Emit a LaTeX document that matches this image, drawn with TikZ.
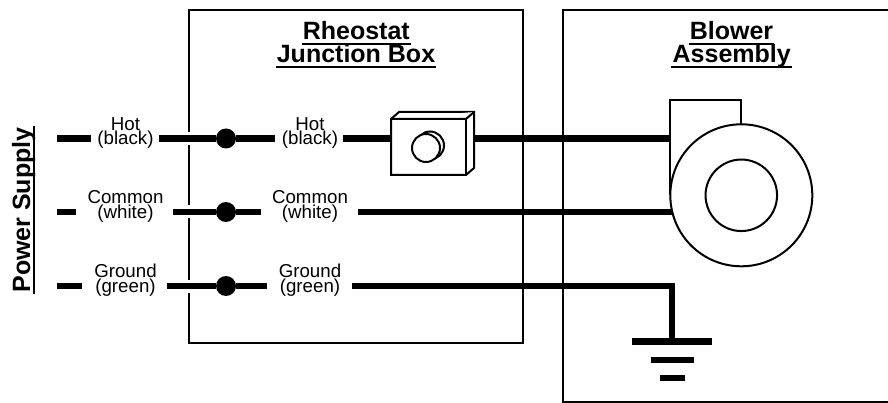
\documentclass[tikz,border=0pt]{standalone}
\usepackage{fontspec}
\setmainfont{Liberation Sans}
\tikzset{
  px/.style={x=1pt,y=-1pt},
  boxline/.style={draw=black,line width=1.8pt},
  wire/.style={draw=black,line width=6.5pt},
  halo/.style={draw=white,line width=13pt},
  bar/.style={draw=black,line width=6pt},
  thin part/.style={draw=black,fill=white,line width=2pt,line join=miter},
  junction/.style={circle,fill=black,inner sep=0pt,minimum size=20pt},
  wirelabel/.style={font=\fontsize{18.7}{14.5}\selectfont,align=center,inner sep=0pt},
  heading/.style={font=\fontsize{25}{25}\selectfont\bfseries,inner sep=0pt,text depth=0pt,anchor=base},
  ul/.style={draw=black,line width=1.9pt},
}
\begin{document}
\begin{tikzpicture}[px]
\useasboundingbox (0,0) rectangle (888,403);
% boxes
\draw[boxline] (189,10) rectangle (523,343);
\draw[boxline] (888,10) -- (563,10) -- (563,402) -- (888,402);
% free ends and junctions
\coordinate (hs) at (57,138.5);
\coordinate (cs) at (57,212);
\coordinate (gs) at (57,286);
\node[junction] (hj) at (226,138.5) {};
\node[junction] (cj) at (226,212) {};
\node[junction] (gj) at (226,286) {};
% labels
\node[wirelabel] (hl1) at (125.5,133) {Hot\\(black)};
\node[wirelabel] (cl1) at (125.5,206.5) {Common\\(white)};
\node[wirelabel] (gl1) at (125.5,280.3) {Ground\\(green)};
\node[wirelabel] (hl2) at (310,133) {Hot\\(black)};
\node[wirelabel] (cl2) at (310,206.5) {Common\\(white)};
\node[wirelabel] (gl2) at (310,280.3) {Ground\\(green)};
% halos on box edge
\draw[halo] (187,138.5) -- (191,138.5);
\draw[halo] (187,212) -- (191,212);
\draw[halo] (187,286) -- (191,286);
% left wires
\draw[wire] (hs) -- (91,138.5);
\draw[wire] (159,138.5) -- (hj);
\draw[wire] (cs) -- (76,212);
\draw[wire] (173,212) -- (cj);
\draw[wire] (gs) -- (82,286);
\draw[wire] (167,286) -- (gj);
% right wires
\draw[wire] (hj) -- (275,138.5);
\draw[wire] (343,138.5) -- (391,138.5);
\draw[wire] (474,138.5) -- (671,138.5);
\draw[wire] (cj) -- (261,212);
\draw[wire] (358,212) -- (672,212);
\draw[wire] (gj) -- (267,286);
\draw[wire,line join=miter] (352,286) -- (672,286) -- (672,342);
% ground bars
\draw[bar,line width=6.5pt] (632.3,341.5) -- (712.3,341.5);
\draw[bar] (650.7,360) -- (694,360);
\draw[bar] (660,378.3) -- (684.7,378.3);
% rheostat
\draw[thin part] (391,119) -- (399,112) -- (474,112) -- (474,168) -- (466,175) -- (391,175) -- cycle;
\draw[thin part] (391,119) -- (466,119) -- (474,112);
\draw[thin part,fill=none] (466,119) -- (466,175);
\draw[thin part] (430,145.5) circle (14);
\draw[thin part] (426,148) circle (14);
% blower
\draw[thin part] (670,195) -- (670,100.5) -- (741.3,100.5) -- (741.3,125);
\node[draw=black,fill=white,line width=2pt,circle,inner sep=0pt,minimum size=142pt] (fan) at (741.3,195.3) {};
\node[draw=black,fill=white,line width=2pt,circle,inner sep=0pt,minimum size=71.5pt] (hub) at (741.3,195.3) {};
% headings
\node[heading] (t1a) at (356.3,40) {Rheostat};
\node[heading] (t1b) at (356,63) {Junction Box};
\node[heading] (t2a) at (731.5,40) {Blower};
\node[heading] (t2b) at (731.7,62.5) {Assembly};
\draw[ul] ([shift={(-1pt,-4pt)}]t1a.south west) -- ([shift={(1pt,-4pt)}]t1a.south east);
\draw[ul] ([shift={(-1pt,-4pt)}]t1b.south west) -- ([shift={(1pt,-4pt)}]t1b.south east);
\draw[ul] ([shift={(-1pt,-4pt)}]t2a.south west) -- ([shift={(1pt,-4pt)}]t2a.south east);
\draw[ul] ([shift={(-1pt,-4pt)}]t2b.south west) -- ([shift={(1pt,-4pt)}]t2b.south east);
\node[heading,rotate=90] (ps) at (30,210) {Power Supply};
\draw[ul] ([shift={(3.5pt,-1pt)}]ps.south west) -- ([shift={(3.5pt,1pt)}]ps.south east);
\end{tikzpicture}
\end{document}
